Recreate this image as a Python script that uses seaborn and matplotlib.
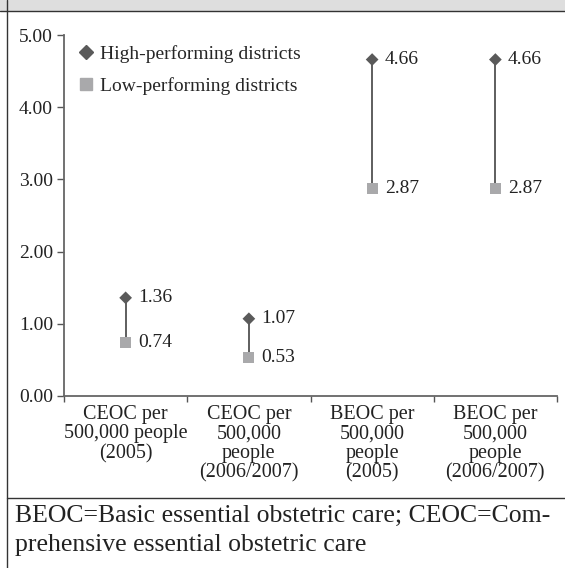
import matplotlib
matplotlib.use("Agg")
import matplotlib.pyplot as plt
import seaborn as sns
import pandas as pd
import numpy as np
from matplotlib.lines import Line2D
from matplotlib.patches import Rectangle

categories = ["CEOC per\n500,000 people\n(2005)",
              "CEOC per\n500,000\npeople\n(2006/2007)",
              "BEOC per\n500,000\npeople\n(2005)",
              "BEOC per\n500,000\npeople\n(2006/2007)"]
high_values = [1.36, 1.07, 4.66, 4.66]
low_values = [0.74, 0.53, 2.87, 2.87]
series_names = ["High-performing districts", "Low-performing districts"]
y_ticks = [0.0, 1.0, 2.0, 3.0, 4.0, 5.0]
caption = "BEOC=Basic essential obstetric care; CEOC=Com-\nprehensive essential obstetric care"

sns.set_theme(style="white")
plt.rcParams['font.family'] = ['Liberation Serif', 'DejaVu Serif']

W, H = 565, 568
fig = plt.figure(figsize=(W / 100, H / 100), dpi=100)

# frame decorations
fig.patches.append(Rectangle((0, (H - 11) / H), 1, 11 / H, transform=fig.transFigure,
                             facecolor="#dedede", edgecolor="none", zorder=0))
fig.add_artist(Line2D([0, 1], [(H - 11) / H] * 2, transform=fig.transFigure, color="#333333", lw=1))
fig.add_artist(Line2D([7 / W] * 2, [0, 1], transform=fig.transFigure, color="#333333", lw=1))
fig.add_artist(Line2D([7 / W, 1], [(H - 498) / H] * 2, transform=fig.transFigure, color="#333333", lw=1))

left, right, top, bottom = 64, 557, 35, 396
ax = fig.add_axes([left / W, (H - bottom) / H, (right - left) / W, (bottom - top) / H])

n = len(categories)
df = pd.DataFrame({
    "x": list(range(n)) * 2,
    "value": high_values + low_values,
    "group": [series_names[0]] * n + [series_names[1]] * n,
})

ax.vlines(range(n), low_values, high_values, color="#333333", lw=1.1, zorder=1)
colors = {series_names[0]: "#5a5a5a", series_names[1]: "#a9a9ab"}
sns.scatterplot(data=df[df.group == series_names[0]], x="x", y="value", color=colors[series_names[0]],
                marker="D", s=42, edgecolor="none", linewidth=0, ax=ax, zorder=3, legend=False)
sns.scatterplot(data=df[df.group == series_names[1]], x="x", y="value", color=colors[series_names[1]],
                marker="s", s=62, edgecolor="none", linewidth=0, ax=ax, zorder=3, legend=False)

for i in range(n):
    ax.annotate(f"{high_values[i]:.2f}", (i, high_values[i]), xytext=(9, 0),
                textcoords="offset points", va="center", ha="left", fontsize=14, color="#222222")
    ax.annotate(f"{low_values[i]:.2f}", (i, low_values[i]), xytext=(9, 0),
                textcoords="offset points", va="center", ha="left", fontsize=14, color="#222222")

ax.set_xlim(-0.5, n - 0.5)
ax.set_ylim(0, 5)
ax.set_yticks(y_ticks)
ax.set_yticklabels([f"{v:.2f}" for v in y_ticks], fontsize=14, color="#222222")
ax.set_xticks(np.arange(n + 1) - 0.5)
ax.set_xticklabels([])
ax.tick_params(axis="y", direction="out", length=5, width=1, color="#555555", pad=3, left=True)
ax.tick_params(axis="x", direction="out", length=4, width=1, color="#555555", bottom=True)
for i, c in enumerate(categories):
    ax.text(i, -0.12, c, ha="center", va="top", fontsize=14.5, color="#222222",
            linespacing=1.04, transform=ax.transData)
for s in ["top", "right"]:
    ax.spines[s].set_visible(False)
for s in ["left", "bottom"]:
    ax.spines[s].set_color("#666666")
    ax.spines[s].set_linewidth(1.3)
ax.set_xlabel("")
ax.set_ylabel("")

handles = [Line2D([], [], marker="D", ls="none", color="#5a5a5a", markersize=7),
           Line2D([], [], marker="s", ls="none", color="#a9a9ab", markersize=9)]
ax.legend(handles, series_names, loc="upper left", bbox_to_anchor=(0.01, 0.993), frameon=False,
          fontsize=14, handletextpad=0.2, handlelength=1.0, labelspacing=0.7, borderaxespad=0)

fig.text(15 / W, (H - 505) / H, caption, ha="left", va="top", fontsize=18.5,
         color="#222222", linespacing=1.4)

fig.savefig("out.png", dpi=100)
